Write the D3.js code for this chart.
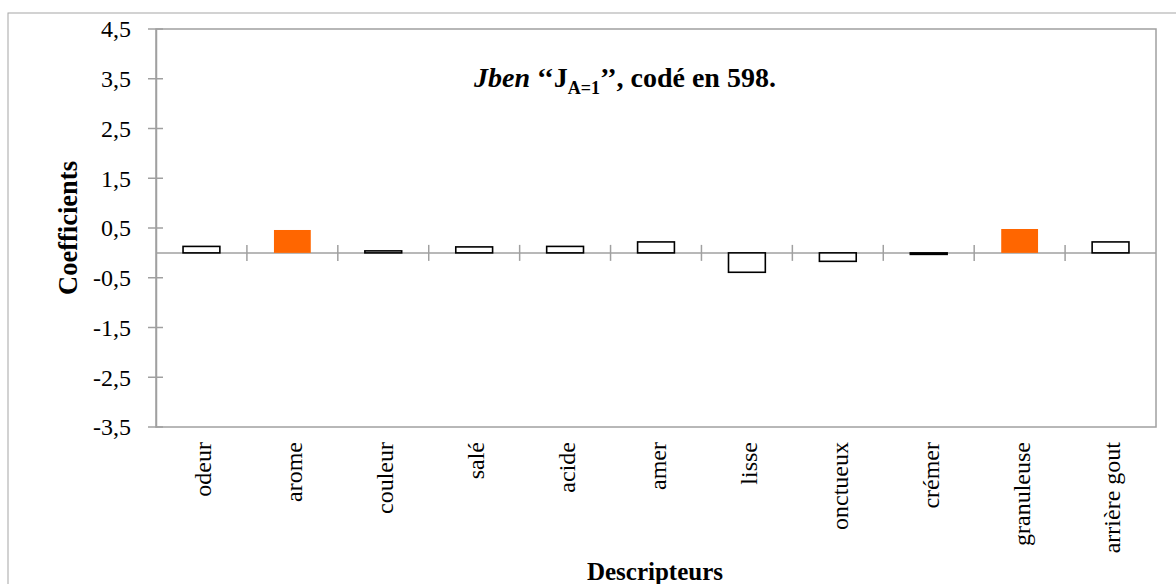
<!DOCTYPE html>
<html><head><meta charset="utf-8">
<script src="https://cdn.jsdelivr.net/npm/d3@7"></script>
<style>
body{margin:0;background:#fff;}
text{font-family:"Liberation Serif","Times New Roman",serif;fill:#000;}
</style></head>
<body><svg id="c" width="1176" height="584"></svg>
<script>
const categories = ["odeur","arome","couleur","salé","acide","amer","lisse","onctueux","crémer","granuleuse","arrière gout"];
const values = [0.13, 0.46, 0.04, 0.12, 0.13, 0.22, -0.39, -0.17, -0.03, 0.48, 0.22];
const highlighted = [false, true, false, false, false, false, false, false, false, true, false];
const yTicks = [4.5, 3.5, 2.5, 1.5, 0.5, -0.5, -1.5, -2.5, -3.5];
const yTickLabels = ["4,5","3,5","2,5","1,5","0,5","-0,5","-1,5","-2,5","-3,5"];

const svg = d3.select("#c");
const L = 156, R = 1156, T = 29, B = 427;
const axisCol = "#a0a0a0";

// outer chart border (left + top visible)
svg.append("rect").attr("x",8).attr("y",13).attr("width",1300).attr("height",700)
  .attr("fill","none").attr("stroke","#a6a6a6").attr("stroke-width",1);

const x = d3.scaleBand().domain(categories).range([L,R]).padding(0);
const y = d3.scaleLinear().domain([-3.5,4.5]).range([B,T]);

// plot area border
svg.append("rect").attr("x",L).attr("y",T).attr("width",R-L).attr("height",B-T)
  .attr("fill","none").attr("stroke",axisCol).attr("stroke-width",1.5);

// y axis
const yAxis = d3.axisLeft(y).tickValues(yTicks).tickSize(0).tickFormat((d,i)=>yTickLabels[i]);
const gy = svg.append("g").attr("transform",`translate(${L},0)`).call(yAxis);
gy.select(".domain").attr("stroke",axisCol).attr("stroke-width",1.5);
gy.selectAll("text").attr("x",-25).attr("font-size",24).attr("font-family","Liberation Serif").attr("fill","#000").attr("dy","0.33em");
svg.append("g").selectAll("line").data(yTicks).join("line")
  .attr("x1",L-8).attr("x2",L+7).attr("y1",d=>y(d)).attr("y2",d=>y(d))
  .attr("stroke",axisCol).attr("stroke-width",1.5);

// zero line with cross ticks at category boundaries
const y0 = y(0);
svg.append("line").attr("x1",L).attr("x2",R).attr("y1",y0).attr("y2",y0).attr("stroke",axisCol).attr("stroke-width",1.5);
const bounds = categories.map(c=>x(c)).concat([R]).slice(1,-1);
svg.append("g").selectAll("line").data(bounds).join("line")
  .attr("x1",d=>d).attr("x2",d=>d).attr("y1",y0-8).attr("y2",y0+8)
  .attr("stroke",axisCol).attr("stroke-width",1.5);

// bars
const bw = x.bandwidth()*0.405;
svg.append("g").selectAll("rect").data(values).join("rect")
  .attr("x",(d,i)=>x(categories[i])+x.bandwidth()/2-bw/2)
  .attr("width",bw)
  .attr("y",d=>y(Math.max(0,d)))
  .attr("height",d=>Math.abs(y(d)-y(0)))
  .attr("fill",(d,i)=>highlighted[i]?"#ff6600":"#fff")
  .attr("stroke",(d,i)=>highlighted[i]?"none":"#000")
  .attr("stroke-width",1.6);

// x labels
svg.append("g").selectAll("text").data(categories).join("text")
  .attr("transform",d=>`translate(${x(d)+x.bandwidth()/2+2},442) rotate(-90)`)
  .attr("text-anchor","end").attr("dy","0.33em").attr("font-size",24).text(d=>d);

// axis titles
svg.append("text").attr("transform","translate(77,228) rotate(-90)").attr("text-anchor","middle")
  .attr("font-size",26.5).attr("font-weight","bold").text("Coefficients");
svg.append("text").attr("x",655).attr("y",580).attr("text-anchor","middle")
  .attr("font-size",25).attr("font-weight","bold").text("Descripteurs");

// chart title
const t = svg.append("text").attr("x",625).attr("y",87).attr("text-anchor","middle")
  .attr("font-size",28).attr("font-weight","bold");
t.append("tspan").attr("font-style","italic").text("Jben");
t.append("tspan").text(" \u2018\u2018J");
t.append("tspan").attr("font-size",18).attr("dy",7).text("A=1");
t.append("tspan").attr("dy",-7).text("\u2019\u2019, codé en 598.");
</script></body></html>
